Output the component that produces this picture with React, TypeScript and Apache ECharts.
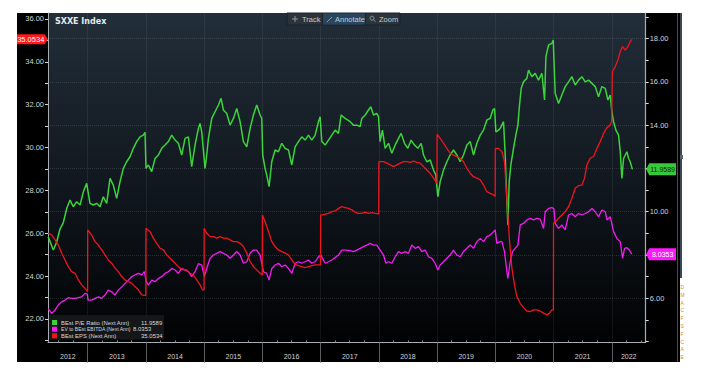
import React, { useEffect, useRef } from "react";
import * as echarts from "echarts";

// ---- axis extents & ticks ----
const years = [2012, 2013, 2014, 2015, 2016, 2017, 2018, 2019, 2020, 2021, 2022];
const xMin = 2012.318;
const xMax = 2022.583;
const epsMin = 20.9;
const epsMax = 36.28;
const ratioMin = 3.96;
const ratioMax = 19.18;
const leftTickValues = [21, 22, 23, 24, 25, 26, 27, 28, 29, 30, 31, 32, 33, 34, 35, 36];
const leftLabelValues = [22, 24, 26, 28, 30, 32, 34, 36];
const rightTickValues = [4, 5, 6, 7, 8, 9, 10, 11, 12, 13, 14, 15, 16, 17, 18, 19];
const rightLabelValues = [6, 10, 14, 16, 18];
const rightGridValues = [6, 8, 10, 12, 14, 16, 18];

// ---- last values ----
const lastPE = 11.9589;
const lastEV = 8.0353;
const lastEPS = 35.0534;

const seriesNames = ["BEst P/E Ratio (Next Ann)", "EV to BEst EBITDA (Next Ann)", "BEst EPS (Next Ann)"];

// ---- BEst P/E Ratio (right axis), [decimal year, value] ----
const peRatio: [number, number][] = [
  [2012.32, 8.85], [2012.41, 8.23], [2012.467, 8.6], [2012.524, 9.2], [2012.581, 9.5], [2012.639, 10.15],
  [2012.696, 10.54], [2012.753, 10.23], [2012.81, 10.46], [2012.868, 10.31], [2012.925, 10.92], [2012.982, 11.31],
  [2013.039, 10.39], [2013.097, 10.31], [2013.154, 10.39], [2013.211, 10.23], [2013.268, 10.69], [2013.326, 10.39],
  [2013.383, 11.54], [2013.44, 11.23], [2013.497, 10.62], [2013.555, 11.39], [2013.612, 12.0], [2013.669, 12.31],
  [2013.726, 12.54], [2013.784, 12.93], [2013.841, 13.24], [2013.898, 13.46], [2013.955, 13.54], [2013.984, 13.67],
  [2014.001, 12.0], [2014.042, 12.16], [2014.099, 11.85], [2014.156, 12.46], [2014.214, 12.62], [2014.271, 12.93],
  [2014.328, 13.08], [2014.385, 13.24], [2014.443, 13.54], [2014.5, 13.31], [2014.557, 13.16], [2014.614, 12.62],
  [2014.672, 13.39], [2014.729, 13.46], [2014.786, 12.08], [2014.843, 13.08], [2014.901, 13.85], [2014.929, 14.08],
  [2014.958, 13.69], [2015.015, 12.0], [2015.044, 12.62], [2015.073, 13.39], [2015.13, 14.31], [2015.187, 14.62],
  [2015.245, 14.93], [2015.29, 15.24], [2015.33, 14.7], [2015.388, 14.54], [2015.445, 14.0], [2015.503, 14.31],
  [2015.56, 14.77], [2015.617, 14.16], [2015.674, 13.24], [2015.732, 13.0], [2015.789, 13.85], [2015.846, 14.47],
  [2015.903, 14.93], [2015.961, 14.47], [2015.989, 14.31], [2016.006, 12.62], [2016.046, 12.0], [2016.075, 11.69],
  [2016.115, 11.16], [2016.161, 12.31], [2016.218, 12.85], [2016.276, 12.77], [2016.333, 13.16], [2016.39, 12.93],
  [2016.448, 12.85], [2016.505, 12.16], [2016.562, 13.0], [2016.619, 13.24], [2016.677, 13.46], [2016.734, 13.31],
  [2016.791, 13.54], [2016.848, 13.31], [2016.906, 13.54], [2016.963, 14.16], [2016.992, 14.39], [2017.02, 13.24],
  [2017.078, 13.08], [2017.135, 13.31], [2017.192, 13.54], [2017.249, 13.77], [2017.307, 13.62], [2017.352, 14.47],
  [2017.421, 14.31], [2017.507, 14.16], [2017.564, 14.0], [2017.621, 14.0], [2017.679, 13.93], [2017.707, 14.31],
  [2017.765, 14.47], [2017.822, 14.7], [2017.862, 14.85], [2017.908, 14.47], [2017.965, 14.54], [2017.994, 14.39],
  [2018.022, 13.24], [2018.062, 13.77], [2018.108, 12.93], [2018.166, 13.16], [2018.223, 12.7], [2018.28, 13.08],
  [2018.337, 13.39], [2018.383, 13.62], [2018.44, 13.16], [2018.498, 12.93], [2018.555, 13.31], [2018.612, 13.08],
  [2018.669, 12.93], [2018.727, 13.16], [2018.767, 12.62], [2018.824, 12.31], [2018.882, 12.39], [2018.939, 11.93],
  [2018.979, 11.69], [2019.013, 10.69], [2019.053, 11.39], [2019.111, 11.93], [2019.168, 12.31], [2019.225, 12.62],
  [2019.282, 12.85], [2019.34, 12.62], [2019.397, 12.31], [2019.454, 12.62], [2019.512, 13.08], [2019.569, 13.24],
  [2019.626, 12.62], [2019.683, 13.16], [2019.741, 13.54], [2019.798, 13.77], [2019.855, 14.24], [2019.912, 14.31],
  [2019.958, 14.7], [2019.987, 14.77], [2020.01, 13.69], [2020.056, 13.77], [2020.084, 13.85], [2020.141, 14.16],
  [2020.17, 12.62], [2020.199, 10.46], [2020.216, 9.39], [2020.239, 11.39], [2020.267, 12.16], [2020.313, 12.93],
  [2020.353, 13.54], [2020.388, 14.0], [2020.416, 14.93], [2020.445, 15.7], [2020.485, 16.0], [2020.542, 16.16],
  [2020.571, 16.54], [2020.628, 16.24], [2020.685, 16.39], [2020.743, 16.08], [2020.8, 16.39], [2020.846, 15.16],
  [2020.869, 17.16], [2020.914, 17.7], [2020.972, 17.78], [2020.995, 17.93], [2021.029, 15.47], [2021.086, 15.0],
  [2021.143, 15.39], [2021.201, 15.78], [2021.258, 16.0], [2021.315, 16.24], [2021.372, 15.85], [2021.43, 16.08],
  [2021.487, 16.24], [2021.544, 16.0], [2021.602, 16.08], [2021.659, 15.93], [2021.716, 15.78], [2021.773, 15.31],
  [2021.831, 15.78], [2021.888, 15.7], [2021.934, 15.16], [2021.974, 15.39], [2022.002, 14.62], [2022.031, 14.16],
  [2022.071, 13.77], [2022.117, 13.54], [2022.146, 12.77], [2022.174, 11.54], [2022.203, 12.46], [2022.232, 12.62],
  [2022.26, 12.77], [2022.289, 12.46], [2022.317, 12.31], [2022.354, 11.9589],
];

// ---- EV to BEst EBITDA (right axis) ----
const evEbitda: [number, number][] = [
  [2012.32, 5.53], [2012.381, 5.3], [2012.438, 5.46], [2012.495, 5.69], [2012.553, 5.84], [2012.61, 5.92],
  [2012.667, 6.03], [2012.724, 6.0], [2012.782, 6.0], [2012.839, 6.03], [2012.896, 6.07], [2012.953, 6.23],
  [2012.994, 6.2], [2013.005, 5.92], [2013.068, 5.92], [2013.125, 6.0], [2013.183, 6.07], [2013.24, 6.0],
  [2013.297, 6.15], [2013.354, 6.38], [2013.411, 6.3], [2013.469, 6.15], [2013.526, 6.38], [2013.583, 6.53],
  [2013.64, 6.69], [2013.698, 6.84], [2013.755, 7.0], [2013.812, 7.08], [2013.87, 7.15], [2013.927, 7.08],
  [2013.973, 7.23], [2014.005, 6.77], [2014.042, 6.61], [2014.099, 6.84], [2014.156, 6.77], [2014.214, 6.92],
  [2014.271, 7.0], [2014.328, 7.15], [2014.385, 7.23], [2014.443, 7.38], [2014.5, 7.31], [2014.557, 7.15],
  [2014.614, 7.38], [2014.672, 7.31], [2014.729, 7.23], [2014.786, 7.0], [2014.843, 7.23], [2014.901, 7.6],
  [2014.958, 7.54], [2015.004, 7.0], [2015.044, 7.38], [2015.101, 7.85], [2015.159, 8.0], [2015.216, 8.08],
  [2015.273, 8.16], [2015.33, 8.08], [2015.388, 8.0], [2015.445, 7.85], [2015.503, 8.0], [2015.56, 8.16],
  [2015.617, 8.0], [2015.674, 7.62], [2015.732, 7.69], [2015.789, 8.08], [2015.846, 8.23], [2015.903, 8.23],
  [2015.961, 8.0], [2016.018, 7.23], [2016.075, 7.15], [2016.115, 6.84], [2016.161, 7.38], [2016.218, 7.54],
  [2016.276, 7.62], [2016.333, 7.46], [2016.39, 7.54], [2016.448, 7.38], [2016.505, 7.15], [2016.562, 7.62],
  [2016.619, 7.69], [2016.677, 7.62], [2016.734, 7.69], [2016.791, 7.77], [2016.848, 7.62], [2016.906, 7.69],
  [2016.963, 7.92], [2017.003, 8.0], [2017.078, 7.62], [2017.135, 7.69], [2017.192, 7.77], [2017.249, 7.88],
  [2017.307, 8.0], [2017.364, 8.23], [2017.421, 8.23], [2017.507, 8.2], [2017.564, 8.16], [2017.621, 8.23],
  [2017.679, 8.31], [2017.736, 8.39], [2017.793, 8.46], [2017.851, 8.54], [2017.908, 8.46], [2017.965, 8.46],
  [2018.022, 8.23], [2018.08, 8.0], [2018.12, 7.62], [2018.166, 7.69], [2018.223, 7.62], [2018.28, 7.92],
  [2018.337, 8.16], [2018.395, 8.08], [2018.452, 8.16], [2018.509, 8.08], [2018.566, 8.46], [2018.624, 8.31],
  [2018.681, 8.39], [2018.738, 8.16], [2018.796, 8.23], [2018.853, 7.92], [2018.91, 7.85], [2018.967, 7.62],
  [2019.013, 7.31], [2019.053, 7.54], [2019.111, 7.69], [2019.168, 7.85], [2019.225, 8.0], [2019.282, 8.23],
  [2019.34, 8.0], [2019.397, 7.92], [2019.454, 8.16], [2019.512, 8.31], [2019.569, 8.46], [2019.626, 8.31],
  [2019.683, 8.62], [2019.741, 8.77], [2019.798, 8.62], [2019.855, 8.85], [2019.912, 8.92], [2019.97, 9.08],
  [2019.998, 9.16], [2020.027, 8.54], [2020.084, 8.62], [2020.113, 8.62], [2020.158, 8.16], [2020.199, 7.23],
  [2020.216, 6.92], [2020.256, 7.69], [2020.296, 8.16], [2020.342, 8.31], [2020.388, 8.46], [2020.428, 9.39],
  [2020.485, 9.46], [2020.542, 9.62], [2020.6, 9.69], [2020.657, 9.62], [2020.714, 9.69], [2020.771, 9.66],
  [2020.829, 9.23], [2020.857, 10.0], [2020.914, 10.15], [2020.972, 10.19], [2021.006, 10.15], [2021.029, 9.46],
  [2021.086, 9.23], [2021.143, 9.39], [2021.201, 9.16], [2021.258, 9.85], [2021.315, 9.92], [2021.372, 9.77],
  [2021.43, 9.92], [2021.487, 9.85], [2021.544, 9.92], [2021.602, 10.0], [2021.659, 10.15], [2021.716, 10.0],
  [2021.773, 9.77], [2021.831, 10.08], [2021.888, 10.0], [2021.917, 9.62], [2021.974, 9.77], [2022.031, 9.08],
  [2022.088, 8.77], [2022.146, 8.62], [2022.186, 7.85], [2022.22, 8.31], [2022.26, 8.34], [2022.3, 8.23],
  [2022.346, 8.0353],
];

// ---- BEst EPS (left axis) ----
const epsEst: [number, number][] = [
  [2012.32, 26.0], [2012.381, 25.92], [2012.438, 25.69], [2012.495, 25.45], [2012.553, 25.07], [2012.61, 24.75],
  [2012.667, 24.44], [2012.724, 24.21], [2012.782, 24.13], [2012.839, 23.82], [2012.896, 23.59], [2012.953, 23.43],
  [2012.998, 23.28], [2013.0, 26.15], [2013.068, 25.92], [2013.125, 25.61], [2013.183, 25.45], [2013.24, 25.22],
  [2013.297, 24.99], [2013.354, 24.75], [2013.411, 24.6], [2013.469, 24.37], [2013.526, 24.21], [2013.583, 23.98],
  [2013.64, 23.82], [2013.698, 23.74], [2013.755, 23.67], [2013.812, 23.51], [2013.87, 23.36], [2013.927, 23.12],
  [2013.998, 23.09], [2014.0, 26.23], [2014.07, 26.08], [2014.128, 25.77], [2014.185, 25.53], [2014.242, 25.3],
  [2014.3, 25.22], [2014.357, 24.99], [2014.414, 24.83], [2014.471, 24.68], [2014.529, 24.52], [2014.586, 24.37],
  [2014.643, 24.29], [2014.7, 24.29], [2014.757, 24.13], [2014.815, 24.05], [2014.872, 23.82], [2014.929, 23.59],
  [2014.97, 23.36], [2014.998, 23.36], [2015.0, 26.23], [2015.044, 26.0], [2015.101, 25.84], [2015.159, 25.84],
  [2015.216, 25.77], [2015.273, 25.84], [2015.33, 25.77], [2015.388, 25.77], [2015.445, 25.69], [2015.503, 25.61],
  [2015.56, 25.61], [2015.617, 25.53], [2015.674, 25.38], [2015.732, 25.07], [2015.789, 24.68], [2015.846, 24.44],
  [2015.903, 24.29], [2015.961, 24.13], [2015.998, 24.05], [2016.0, 26.85], [2016.046, 26.54], [2016.104, 26.08],
  [2016.161, 25.61], [2016.218, 25.38], [2016.276, 25.22], [2016.333, 25.14], [2016.39, 25.07], [2016.448, 24.99],
  [2016.505, 24.75], [2016.562, 24.55], [2016.619, 24.49], [2016.677, 24.44], [2016.734, 24.4], [2016.791, 24.44],
  [2016.848, 24.49], [2016.906, 24.52], [2016.963, 24.52], [2016.998, 24.52], [2017.0, 26.85], [2017.078, 26.89],
  [2017.135, 26.93], [2017.192, 27.01], [2017.249, 27.04], [2017.307, 27.16], [2017.364, 27.24], [2017.421, 27.2],
  [2017.478, 27.16], [2017.536, 27.09], [2017.593, 26.98], [2017.65, 26.93], [2017.707, 26.93], [2017.765, 26.98],
  [2017.822, 26.93], [2017.879, 26.96], [2017.937, 26.93], [2017.998, 26.9], [2018.0, 29.34], [2018.08, 29.34],
  [2018.137, 29.27], [2018.194, 29.19], [2018.252, 29.11], [2018.309, 29.19], [2018.366, 29.27], [2018.423, 29.34],
  [2018.481, 29.34], [2018.538, 29.31], [2018.595, 29.37], [2018.652, 29.31], [2018.71, 29.27], [2018.767, 29.11],
  [2018.824, 28.95], [2018.882, 28.8], [2018.939, 28.57], [2018.998, 28.33], [2019.0, 30.62], [2019.053, 30.43],
  [2019.111, 30.2], [2019.168, 29.96], [2019.225, 29.73], [2019.282, 29.65], [2019.34, 29.58], [2019.397, 29.5],
  [2019.454, 29.34], [2019.512, 29.03], [2019.569, 28.8], [2019.626, 28.64], [2019.683, 28.57], [2019.741, 28.49],
  [2019.798, 28.25], [2019.855, 27.94], [2019.912, 27.86], [2019.97, 27.79], [2019.998, 27.71], [2020.0, 29.96],
  [2020.056, 29.96], [2020.113, 29.81], [2020.158, 29.34], [2020.187, 28.1], [2020.216, 26.85], [2020.245, 25.61],
  [2020.285, 24.37], [2020.33, 23.59], [2020.37, 23.04], [2020.428, 22.73], [2020.485, 22.53], [2020.542, 22.37],
  [2020.6, 22.34], [2020.657, 22.42], [2020.714, 22.42], [2020.771, 22.37], [2020.829, 22.27], [2020.886, 22.19],
  [2020.931, 22.27], [2020.972, 22.42], [2020.998, 22.42], [2021.0, 26.47], [2021.029, 26.51], [2021.086, 26.7],
  [2021.143, 26.85], [2021.201, 27.01], [2021.258, 27.24], [2021.315, 27.63], [2021.372, 28.1], [2021.43, 28.22],
  [2021.487, 28.25], [2021.533, 28.57], [2021.573, 29.19], [2021.63, 29.5], [2021.688, 29.58], [2021.745, 29.96],
  [2021.802, 30.28], [2021.859, 30.66], [2021.917, 30.93], [2021.974, 31.05], [2021.998, 31.21], [2022.01, 33.54],
  [2022.06, 33.78], [2022.106, 34.09], [2022.146, 34.48], [2022.186, 34.71], [2022.232, 34.55], [2022.277, 34.71],
  [2022.317, 34.94], [2022.346, 35.0534],
];

const GREEN = "#3ad43a";
const MAGENTA = "#f21cf2";
const RED = "#f0141e";
const AXIS = "#a8adb2";
const LABEL = "#d2d4d6";
const FONT = '"Liberation Sans", Arial, sans-serif';

export default function App() {
  const ref = useRef<HTMLDivElement>(null);

  useEffect(() => {
    if (!ref.current) return;
    const chart = echarts.init(ref.current, undefined, { renderer: "svg" });

    const quarterTicks: number[] = [];
    years.forEach((y) => [0.25, 0.5, 0.75].forEach((q) => {
      const v = y + q;
      if (v > xMin && v < xMax) quarterTicks.push(v);
    }));
    const yearStarts = years.filter((y) => y > xMin && y < xMax);
    const yearMids = years.map((y) => (Math.max(y, xMin) + Math.min(y + 1, xMax)) / 2);

    const dotted = { color: "rgba(200,210,220,0.16)", type: "dotted" as const, width: 1 };

    chart.setOption({
      animation: false,
      backgroundColor: "transparent",
      grid: {
        left: 48, right: 56.3, top: 13, bottom: 34.5, show: true, borderWidth: 0,
        backgroundColor: new echarts.graphic.LinearGradient(0, 0, 0, 1, [
          { offset: 0, color: "#222e39" },
          { offset: 0.55, color: "#10161d" },
          { offset: 1, color: "#010203" },
        ]),
      },
      xAxis: [
        {
          type: "value", min: xMin, max: xMax, position: "bottom",
          axisLine: { show: true, lineStyle: { color: AXIS, width: 1 } },
          axisTick: { show: true, inside: true, length: 2, customValues: quarterTicks, lineStyle: { color: "#8a8f94" } },
          axisLabel: {
            show: true, customValues: yearMids, margin: 10, color: LABEL, fontSize: 7, fontFamily: FONT,
            formatter: (v: number) => String(Math.floor(v)),
          },
          splitLine: { show: false },
        },
        {
          type: "value", min: xMin, max: xMax, position: "bottom",
          axisLine: { show: false },
          axisTick: { show: true, inside: false, length: 20, customValues: yearStarts, lineStyle: { color: "#5a5f64" } },
          axisLabel: { show: false },
          splitLine: { show: false },
        },
      ],
      yAxis: [
        {
          type: "value", min: epsMin, max: epsMax, position: "left",
          axisLine: { show: true, lineStyle: { color: AXIS, width: 1 } },
          axisTick: { show: true, inside: false, length: 3, customValues: leftTickValues, lineStyle: { color: "#d8d8d8" } },
          axisLabel: {
            show: true, customValues: leftLabelValues, margin: 4, color: LABEL, fontSize: 7.5, fontFamily: FONT,
            formatter: (v: number) => v.toFixed(2),
          },
          splitLine: { show: false },
        },
        {
          type: "value", min: ratioMin, max: ratioMax, position: "right",
          axisLine: { show: true, lineStyle: { color: AXIS, width: 1.2 } },
          axisTick: { show: true, inside: false, length: 3, customValues: rightTickValues, lineStyle: { color: "#d8d8d8" } },
          axisLabel: {
            show: true, customValues: rightLabelValues, margin: 4, color: LABEL, fontSize: 7.5, fontFamily: FONT,
            formatter: (v: number) => v.toFixed(2),
          },
          splitLine: { show: false },
        },
      ],
      series: [
        {
          name: seriesNames[0], type: "line", xAxisIndex: 0, yAxisIndex: 1, data: peRatio,
          showSymbol: false, symbol: "none", lineStyle: { color: GREEN, width: 1.5 }, z: 3,
          markLine: {
            silent: true, symbol: ["none", "none"], label: { show: false }, lineStyle: dotted,
            data: [
              ...rightGridValues.map((v) => ({ yAxis: v })),
              ...yearStarts.map((v) => ({ xAxis: v })),
            ],
          },
        },
        {
          name: seriesNames[1], type: "line", xAxisIndex: 0, yAxisIndex: 1, data: evEbitda,
          showSymbol: false, symbol: "none", lineStyle: { color: MAGENTA, width: 1.3 }, z: 4,
        },
        {
          name: seriesNames[2], type: "line", xAxisIndex: 0, yAxisIndex: 0, data: epsEst,
          showSymbol: false, symbol: "none", lineStyle: { color: RED, width: 1.3 }, z: 5,
        },
      ],
    });

    const yEPS = chart.convertToPixel({ yAxisIndex: 0 }, lastEPS) as number;
    const yPE = chart.convertToPixel({ yAxisIndex: 1 }, lastPE) as number;
    const yEV = chart.convertToPixel({ yAxisIndex: 1 }, lastEV) as number;
    const xL = chart.convertToPixel({ xAxisIndex: 0 }, xMin) as number;
    const xR = chart.convertToPixel({ xAxisIndex: 0 }, xMax) as number;

    const txt = (text: string, x: number, y: number, size: number, fill: string, align = "left", weight = "normal", family = FONT, scaleX = 1) => ({
      type: "text", x, y, z: 120, scaleX,
      style: {
        text, fill, font: `${weight} ${size}px ${family}`,
        align, textAlign: align, verticalAlign: "middle", textVerticalAlign: "middle",
      },
    });

    const boxRight = 676;
    const rightMarker = (y: number, fill: string, text: string, textFill: string) => [
      {
        type: "polygon", z: 100,
        shape: { points: [[xR + 0.5, y], [xR + 3.5, y - 6], [boxRight, y - 6], [boxRight, y + 6], [xR + 3.5, y + 6]] },
        style: { fill },
      },
      txt(text, (xR + 3.5 + boxRight) / 2, y, 7, textFill, "center"),
    ];

    const legendRows = [
      { color: GREEN, name: seriesNames[0], value: lastPE.toFixed(4), vx: 141, sx: 0.98 },
      { color: MAGENTA, name: seriesNames[1], value: lastEV.toFixed(4), vx: 133, sx: 0.85 },
      { color: RED, name: seriesNames[2], value: lastEPS.toFixed(4), vx: 141, sx: 0.98 },
    ];
    const rowY = [322.5, 329.2, 335.8];

    const graphics: any[] = [
      // title
      txt("SXXE Index", 55, 21, 8, "#e6e8ea", "left", "bold", '"DejaVu Sans", sans-serif'),
      // toolbar
      { type: "rect", z: 100, shape: { x: 287, y: 13, width: 113, height: 12 }, style: { fill: "#2b333b", stroke: "#1b2128", lineWidth: 1 } },
      { type: "rect", z: 101, shape: { x: 323, y: 13.5, width: 42, height: 11 }, style: { fill: "#284660" } },
      { type: "line", z: 102, shape: { x1: 322.5, y1: 13.5, x2: 322.5, y2: 24.5 }, style: { stroke: "#1b2128", lineWidth: 1 } },
      { type: "line", z: 102, shape: { x1: 365.5, y1: 13.5, x2: 365.5, y2: 24.5 }, style: { stroke: "#1b2128", lineWidth: 1 } },
      { type: "line", z: 102, shape: { x1: 292, y1: 19, x2: 298, y2: 19 }, style: { stroke: "#8e979f", lineWidth: 1 } },
      { type: "line", z: 102, shape: { x1: 295, y1: 16, x2: 295, y2: 22 }, style: { stroke: "#8e979f", lineWidth: 1 } },
      txt("Track", 302, 19.2, 7.5, "#c5ccd3"),
      { type: "line", z: 102, shape: { x1: 327, y1: 22, x2: 332, y2: 17 }, style: { stroke: "#8e979f", lineWidth: 1 } },
      txt("Annotate", 335, 19.2, 7.5, "#c5ccd3"),
      { type: "circle", z: 102, shape: { cx: 372, cy: 18.2, r: 2 }, style: { fill: "none", stroke: "#8e979f", lineWidth: 1 } },
      { type: "line", z: 102, shape: { x1: 373.5, y1: 19.7, x2: 375.5, y2: 21.7 }, style: { stroke: "#8e979f", lineWidth: 1 } },
      txt("Zoom", 379, 19.2, 7.5, "#c5ccd3"),
      // legend
      { type: "rect", z: 100, shape: { x: xL + 1, y: 315, width: 115, height: 24.5 }, style: { fill: "rgba(22,24,26,0.9)" } },
      ...legendRows.flatMap((r, i) => [
        { type: "rect", z: 101, shape: { x: 52, y: rowY[i] - 2.5, width: 5, height: 5 }, style: { fill: r.color } },
        txt(r.name, 61, rowY[i], 6, "#d6d8da", "left", "normal", FONT, r.sx),
        txt(r.value, r.vx, rowY[i], 6, "#d6d8da"),
      ]),
      // last value markers
      {
        type: "polygon", z: 100,
        shape: { points: [[17, yEPS - 5], [xL - 3.5, yEPS - 5], [xL, yEPS], [xL - 3.5, yEPS + 5], [17, yEPS + 5]] },
        style: { fill: "#ff1a1a" },
      },
      txt(lastEPS.toFixed(4), (17 + xL - 3.5) / 2, yEPS, 7.5, "#ffffff", "center"),
      ...rightMarker(yPE, "#38c93a", lastPE.toFixed(4), "#0c2a0c"),
      ...rightMarker(yEV, "#ff19ff", lastEV.toFixed(4), "#ffffff"),
    ];

    chart.setOption({ graphic: graphics });

    return () => chart.dispose();
  }, []);

  const letters = ["D", "M", "A", "C", "F", "S", "F", "C", "A", "E"];

  return (
    <div style={{ position: "fixed", left: 0, top: 0, width: 702, height: 377, background: "#ffffff", overflow: "hidden" }}>
      <div style={{ position: "absolute", left: 17, top: 13, width: 663, height: 349, background: "#000000" }} />
      <div style={{ position: "absolute", left: 676.5, top: 13, width: 1, height: 349, background: "#1f5596" }} />
      <div style={{ position: "absolute", left: 680, top: 13, width: 1.5, height: 265, background: "#3a4756" }} />
      <div style={{ position: "absolute", left: 680, top: 155, width: 3, height: 4, background: "#5a646e" }} />
      <div
        style={{
          position: "absolute", left: 680.5, top: 284, width: 8, height: 78,
          color: "#d98a26", fontSize: 5, lineHeight: "7.8px", fontFamily: FONT,
        }}
      >
        {letters.map((l, i) => (
          <div key={i}>{l}</div>
        ))}
      </div>
      <div ref={ref} style={{ position: "absolute", left: 0, top: 0, width: 702, height: 377 }} />
    </div>
  );
}
